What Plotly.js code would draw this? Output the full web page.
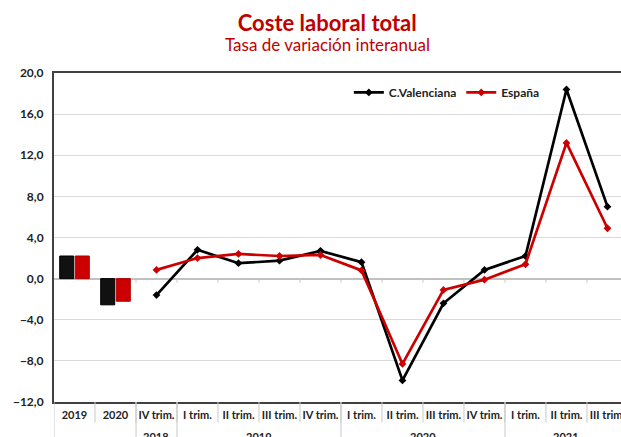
<!DOCTYPE html>
<html>
<head>
<meta charset="utf-8">
<script src="https://cdn.plot.ly/plotly-3.0.1.min.js"></script>
<style>html,body{margin:0;padding:0;background:#fff;}#chart{width:621px;height:437px;}</style>
</head>
<body>
<div id="chart"></div>
<script>
// Annual bars
const annualLabels = ["2019", "2020"];
const annualValenciana = [2.2, -2.55];
const annualEspana = [2.2, -2.2];

// Quarterly lines
const quarterYears = ["2018", "2019", "2019", "2019", "2019", "2020", "2020", "2020", "2020", "2021", "2021", "2021"];
const quarterLabels = ["IV trim.", "I trim.", "II trim.", "III trim.", "IV trim.", "I trim.", "II trim.", "III trim.", "IV trim.", "I trim.", "II trim.", "III trim."];
const quarterValenciana = [-1.6, 2.8, 1.5, 1.75, 2.7, 1.6, -9.9, -2.4, 0.85, 2.2, 18.4, 7.0];
const quarterEspana = [0.85, 2.0, 2.4, 2.2, 2.3, 0.8, -8.3, -1.1, -0.1, 1.4, 13.2, 4.9];

const yTicks = [-12, -8, -4, 0, 4, 8, 12, 16, 20];

const BLACK = "#000000";
const RED = "#cc0000";
const FONT = "Lato, 'Open Sans', sans-serif";
const SEP = "#c8c8c8";

// unique category keys (label + year) so repeated quarter names stay distinct
const quarterKeys = quarterLabels.map((l, i) => l + " " + quarterYears[i]);
const allKeys = annualLabels.concat(quarterKeys);
const allText = annualLabels.concat(quarterLabels);

// year groups (for the second label row and the long separators)
const groups = [];
quarterYears.forEach((y, i) => {
  const idx = annualLabels.length + i;
  const g = groups[groups.length - 1];
  if (g && g.year === y) g.end = idx; else groups.push({year: y, start: idx, end: idx});
});

const shapes = [];
const annotations = [];
const n = allKeys.length;
// short separators between every category
for (let i = 0; i < n; i++) {
  shapes.push({type: "line", xref: "x", yref: "paper", x0: i + 0.5, x1: i + 0.5, y0: 0, y1: -0.062,
               line: {color: SEP, width: 1}});
}
// small ticks under the zero line
for (let i = 1; i < n; i++) {
  shapes.push({type: "line", xref: "x", yref: "y", x0: i + 0.5, x1: i + 0.5, y0: 0, y1: -0.4,
               line: {color: SEP, width: 1}});
}
// long separators at group boundaries
const longBounds = [-0.5, annualLabels.length - 0.5].concat(groups.map(g => g.end + 0.5));
longBounds.forEach(b => {
  shapes.push({type: "line", xref: "x", yref: "paper", x0: b, x1: b, y0: 0, y1: -0.2,
               line: {color: SEP, width: 1}});
});
groups.forEach(g => {
  annotations.push({xref: "x", yref: "paper", x: (g.start + g.end) / 2, y: -0.104, yanchor: "middle",
                    text: g.year, showarrow: false, font: {family: FONT, size: 11, color: "#222", weight: "bold"}});
});
annotations.push({xref: "paper", yref: "paper", x: 0.4815, y: 1.088, xanchor: "center", yanchor: "middle",
                  text: "Tasa de variación interanual", showarrow: false,
                  font: {family: FONT, size: 17, color: "#c00000"}});

const traces = [
  {type: "bar", x: annualLabels, y: annualValenciana, name: "C.Valenciana",
   marker: {color: "#111111", line: {color: "#000", width: 1}}, showlegend: false, hoverinfo: "skip"},
  {type: "bar", x: annualLabels, y: annualEspana, name: "España",
   marker: {color: RED, line: {color: "#b00000", width: 1}}, showlegend: false, hoverinfo: "skip"},
  {type: "scatter", mode: "lines+markers", x: quarterKeys, y: quarterValenciana,
   name: "C.Valenciana", line: {color: BLACK, width: 2.7}, marker: {symbol: "diamond", size: 6, color: BLACK}},
  {type: "scatter", mode: "lines+markers", x: quarterKeys, y: quarterEspana,
   name: "España", line: {color: RED, width: 2.7}, marker: {symbol: "diamond", size: 6, color: RED}}
];

const layout = {
  width: 621, height: 437,
  margin: {l: 54, r: 0, t: 73, b: 35},
  paper_bgcolor: "#fff", plot_bgcolor: "#fff",
  font: {family: FONT, color: "#333"},
  separators: ",.",
  barmode: "group", bargap: 0.24, bargroupgap: 0.1,
  title: {text: "<b>Coste laboral total</b>", font: {family: FONT, size: 22, color: "#c00000"},
          xref: "container", x: 0.527, xanchor: "center", yref: "container", y: 0.947, yanchor: "middle"},
  showlegend: true,
  legend: {orientation: "h", x: 0.52, y: 0.985, xanchor: "left", yanchor: "top",
           font: {family: FONT, size: 12, color: "#222", weight: "bold"}, bgcolor: "rgba(0,0,0,0)",
           itemwidth: 30},
  shapes: shapes,
  annotations: annotations,
  xaxis: {type: "category", categoryorder: "array", categoryarray: allKeys,
          tickvals: allKeys, ticktext: allText, tickangle: 0,
          range: [-0.5, n - 0.67],
          showline: true, linecolor: "#404040", linewidth: 2, mirror: true,
          ticks: "", ticklabelstandoff: 2,
          tickfont: {family: FONT, size: 11, color: "#222", weight: "bold"},
          showgrid: false, zeroline: false, fixedrange: true},
  yaxis: {range: [-12, 20], tickvals: yTicks, tickformat: ".1f",
          showline: true, linecolor: "#404040", linewidth: 2, mirror: true,
          showgrid: true, gridcolor: "#d9d9d9", gridwidth: 1,
          zeroline: true, zerolinecolor: "#c0c0c0", zerolinewidth: 2,
          ticks: "", ticklabelstandoff: 6,
          tickfont: {family: FONT, size: 12, color: "#222", weight: "bold"}, fixedrange: true}
};

Plotly.newPlot("chart", traces, layout, {displayModeBar: false, staticPlot: true});
</script>
</body>
</html>
